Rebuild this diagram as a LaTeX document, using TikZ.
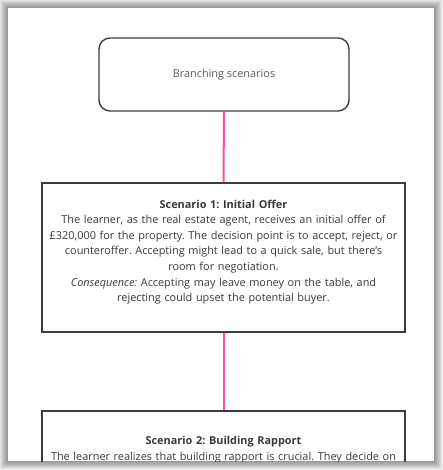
\documentclass[tikz,border=0pt]{standalone}
\usepackage{fontspec}
\setmainfont{Open Sans}
\frenchspacing
\definecolor{linkpink}{HTML}{FF4FA3}
\definecolor{boxgray}{HTML}{3C3C3C}
\definecolor{txtgray}{HTML}{3A3A3A}
\definecolor{softgray}{HTML}{5A5A5A}

\begin{document}
\begin{tikzpicture}[x=1pt, y=-1pt,
  every node/.style={font=\fontsize{10.9}{15.6}\selectfont, text=txtgray},
  startbox/.style={draw=boxgray, line width=1.4pt, rounded corners=11pt, minimum width=250pt, minimum height=73pt, text=softgray},
  scenbox/.style={draw=boxgray, line width=1.4pt, minimum width=363pt, minimum height=149pt},
  scentext/.style={align=center, text width=355pt, anchor=north, inner sep=0pt},
  link/.style={draw=linkpink, line width=2pt}]

	\useasboundingbox (0,0) rectangle (443,470);

	% page with its shadow
	\foreach \i in {1,...,9}
		\fill[black, opacity=0.055] (8-\i,8-\i) rectangle (434+\i,461+\i);
	\fill[white] (8,8) rectangle (434,461);

	\begin{scope}
		\clip (8,8) rectangle (434,461);

		\node[startbox] (start) at (224,74.5) {Branching scenarios};

		\node[scenbox] (s1) at (223.5,257.5) {};
		\node[scentext] (s1txt) at (223.5,199.5) {\textbf{Scenario 1: Initial Offer}\\
			The learner, as the real estate agent, receives an initial offer of\\
			£320,000 for the property. The decision point is to accept, reject, or\\
			counteroffer. Accepting might lead to a quick sale, but there's\\
			room for negotiation.\\
			\textit{Consequence:} Accepting may leave money on the table, and\\
			rejecting could upset the potential buyer.};

		\node[scenbox] (s2) at (223.5,485.5) {};
		\node[scentext] (s2txt) at (223.5,436.5) {\textbf{Scenario 2: Building Rapport}\\
			The learner realizes that building rapport is crucial. They decide on};

		\draw[link] (start.south) -- (s1.north);
		\draw[link] (s1.south) -- (s2.north);
	\end{scope}
\end{tikzpicture}
\end{document}
